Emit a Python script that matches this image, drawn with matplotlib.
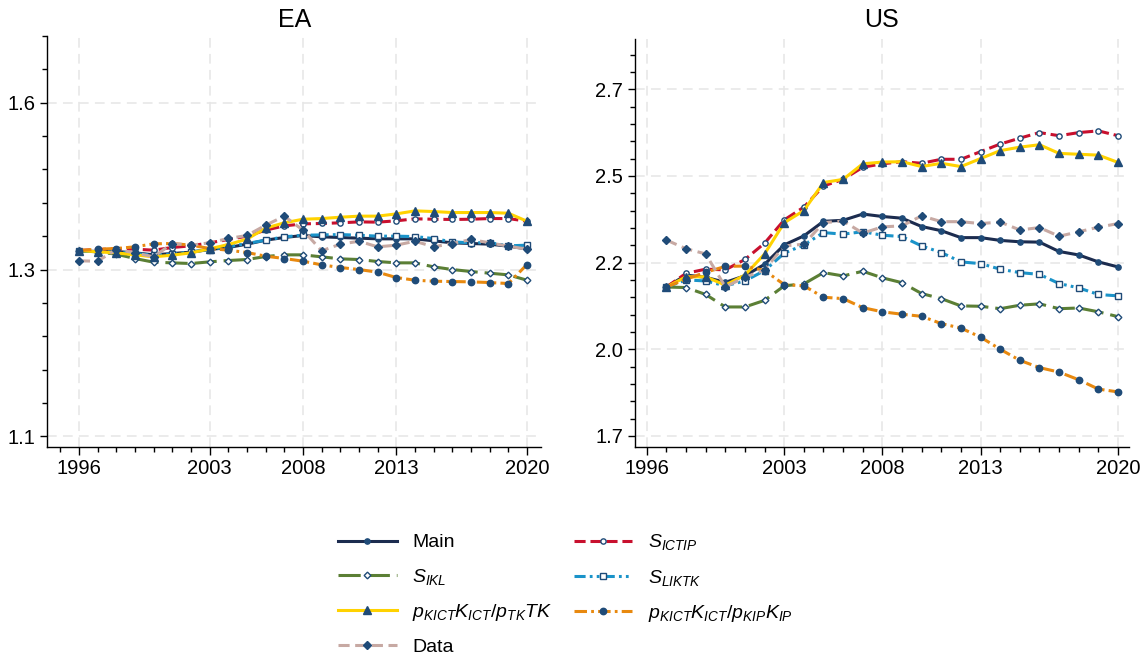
import matplotlib
matplotlib.use("Agg")
import matplotlib.pyplot as plt
from matplotlib.ticker import MultipleLocator

# ---- data -------------------------------------------------------------
ea_years = list(range(1996, 2021))
us_years = list(range(1997, 2021))

ea_main = [1.378, 1.377, 1.377, 1.375, 1.372, 1.374, 1.376, 1.380, 1.383,
           1.388, 1.394, 1.398, 1.401, 1.399, 1.398, 1.397, 1.396, 1.396,
           1.396, 1.393, 1.390, 1.389, 1.388, 1.385, 1.381]
ea_s_ictip = [1.3785, 1.380, 1.381, 1.3805, 1.379, 1.383, 1.3855, 1.390,
              1.395, 1.400, 1.409, 1.4154, 1.4184, 1.419, 1.420, 1.4214,
              1.421, 1.423, 1.426, 1.4254, 1.425, 1.4254, 1.4264, 1.4264,
              1.4224]
ea_s_ikl = [1.378, 1.3765, 1.373, 1.3665, 1.361, 1.360, 1.359, 1.3615,
            1.3635, 1.365, 1.3695, 1.372, 1.372, 1.369, 1.366, 1.365, 1.362,
            1.360, 1.360, 1.354, 1.350, 1.347, 1.3445, 1.342, 1.334]
ea_s_liktk = [1.378, 1.3765, 1.3765, 1.374, 1.3715, 1.373, 1.3765, 1.380,
              1.384, 1.389, 1.394, 1.399, 1.4014, 1.4019, 1.4024, 1.4014,
              1.400, 1.400, 1.3994, 1.3964, 1.3914, 1.390, 1.3904, 1.3855,
              1.3865]
ea_p_tk = [1.3785, 1.3765, 1.375, 1.372, 1.369, 1.3715, 1.375, 1.381,
           1.3875, 1.3955, 1.412, 1.420, 1.4254, 1.4264, 1.4284, 1.430,
           1.430, 1.4334, 1.4379, 1.4369, 1.4354, 1.4354, 1.4354, 1.4344,
           1.4224]
ea_p_kip = [1.3785, 1.3805, 1.3815, 1.384, 1.3885, 1.389, 1.3865, 1.3815,
            1.379, 1.3755, 1.370, 1.3665, 1.3625, 1.357, 1.353, 1.350, 1.346,
            1.338, 1.334, 1.3325, 1.332, 1.3315, 1.3305, 1.329, 1.3575]
ea_data = [1.363, 1.3625, 1.380, 1.375, 1.369, 1.389, 1.3865, 1.390, 1.3965,
           1.401, 1.4164, 1.430, 1.409, 1.378, 1.388, 1.3924, 1.384, 1.3865,
           1.3924, 1.384, 1.389, 1.395, 1.390, 1.385, 1.3805]

us_main = [2.1295, 2.164, 2.1575, 2.143, 2.162, 2.195, 2.251, 2.277, 2.319,
           2.322, 2.340, 2.333, 2.328, 2.304, 2.292, 2.272, 2.272, 2.264,
           2.260, 2.259, 2.232, 2.222, 2.202, 2.1875]
us_s_ictip = [2.1295, 2.169, 2.181, 2.179, 2.209, 2.256, 2.323, 2.360, 2.421,
              2.440, 2.475, 2.485, 2.491, 2.4865, 2.498, 2.498, 2.520, 2.542,
              2.559, 2.575, 2.566, 2.575, 2.580, 2.566]
us_s_ikl = [2.1295, 2.128, 2.108, 2.072, 2.072, 2.091, 2.133, 2.1385, 2.171,
            2.1615, 2.175, 2.156, 2.142, 2.1106, 2.096, 2.075, 2.074, 2.067,
            2.077, 2.081, 2.067, 2.069, 2.058, 2.044]
us_s_liktk = [2.1295, 2.150, 2.147, 2.133, 2.147, 2.177, 2.227, 2.251,
              2.2865, 2.282, 2.289, 2.279, 2.275, 2.248, 2.229, 2.202, 2.197,
              2.181, 2.171, 2.166, 2.1395, 2.127, 2.108, 2.104]
us_p_tk = [2.1295, 2.159, 2.159, 2.135, 2.164, 2.225, 2.315, 2.350, 2.431,
           2.440, 2.485, 2.490, 2.491, 2.477, 2.4865, 2.477, 2.500, 2.523,
           2.533, 2.540, 2.515, 2.5125, 2.510, 2.489]
us_p_kip = [2.1295, 2.152, 2.172, 2.189, 2.190, 2.177, 2.1365, 2.133, 2.100,
            2.096, 2.070, 2.058, 2.051, 2.045, 2.024, 2.011, 1.985, 1.950,
            1.918, 1.897, 1.884, 1.862, 1.835, 1.827]
us_data = [2.265, 2.240, 2.225, 2.130, 2.1575, 2.179, 2.248, 2.253, 2.315,
           2.320, 2.285, 2.303, 2.306, 2.335, 2.318, 2.318, 2.3125, 2.317,
           2.294, 2.301, 2.276, 2.289, 2.302, 2.3125]

x_ticks = [1996, 2003, 2008, 2013, 2020]
ea_y_ticks = [1.1, 1.35, 1.6]
ea_y_labels = ["1.1", "1.3", "1.6"]
us_y_ticks = [1.7, 1.95, 2.2, 2.45, 2.7]
us_y_labels = ["1.7", "2.0", "2.2", "2.5", "2.7"]

labels = {
    "main": "Main",
    "s_ictip": r"$S_{ICTIP}$",
    "s_ikl": r"$S_{IKL}$",
    "s_liktk": r"$S_{LIKTK}$",
    "p_tk": r"$p_{KICT}K_{ICT}/p_{TK}TK$",
    "p_kip": r"$p_{KICT}K_{ICT}/p_{KIP}K_{IP}$",
    "data": "Data",
}

# ---- styles -----------------------------------------------------------
MARK = "#1f4b78"
styles = {
    "main": dict(color="#1c2c4f", ls="-", marker="o", ms=3.8, mfc=MARK),
    "s_ictip": dict(color="#c8102e", ls=(0, (8, 3.5)), marker="o", ms=3.8,
                    mfc="white"),
    "s_ikl": dict(color="#5b7f35", ls=(0, (16, 5)), marker="D", ms=3.4,
                  mfc="white"),
    "s_liktk": dict(color="#1a93c9", ls=(0, (8, 3, 2, 3, 2, 3)), marker="s",
                    ms=3.8, mfc="white"),
    "p_tk": dict(color="#ffd200", ls="-", marker="^", ms=5.2, mfc=MARK),
    "p_kip": dict(color="#e8890f", ls=(0, (9, 3, 2, 3)), marker="o", ms=4.6,
                  mfc=MARK),
    "data": dict(color="#c7a9a3", ls=(0, (8, 4)), marker="D", ms=3.8,
                 mfc=MARK),
}
order = ["main", "s_ictip", "s_ikl", "s_liktk", "p_tk", "p_kip", "data"]

plt.rcParams["font.family"] = ["Liberation Sans", "DejaVu Sans"]
plt.rcParams["mathtext.fontset"] = "custom"
plt.rcParams["mathtext.rm"] = "Liberation Sans"
plt.rcParams["mathtext.it"] = "Liberation Sans:italic"
plt.rcParams["lines.scale_dashes"] = False


def style_axis(ax, xlim, ylim, yticks, ylabels):
    ax.set_xlim(*xlim)
    ax.set_ylim(*ylim)
    ax.set_xticks(x_ticks)
    ax.set_xticklabels([str(t) for t in x_ticks])
    ax.xaxis.set_minor_locator(MultipleLocator(1))
    ax.set_yticks(yticks)
    ax.set_yticklabels(ylabels)
    ax.yaxis.set_minor_locator(MultipleLocator(0.05))
    ax.spines["top"].set_visible(False)
    ax.spines["right"].set_visible(False)
    for s in ("left", "bottom"):
        ax.spines[s].set_linewidth(1.0)
    ax.tick_params(which="major", length=5.4, width=1.0, labelsize=14.5,
                   pad=3)
    ax.tick_params(which="minor", length=3.6, width=1.0)
    ax.grid(True, which="major", color="#e6e6e6", lw=1.1,
            ls=(0, (7, 4.5)), zorder=0)
    ax.set_axisbelow(True)


def draw_panel(ax, years, series):
    handles = {}
    for key in order:
        st = styles[key]
        line, = ax.plot(years, series[key], color=st["color"],
                        linestyle=st["ls"], lw=2.2, marker=st["marker"],
                        markersize=st["ms"], markerfacecolor=st["mfc"],
                        markeredgecolor=MARK, markeredgewidth=1.0,
                        label=labels[key])
        handles[key] = line
    return handles


def main():
    fig = plt.figure(figsize=(11.48, 6.61), dpi=100)
    ax_ea = fig.add_axes([0.04094, 0.32375, 0.43031, 0.62179])
    ax_us = fig.add_axes([0.55279, 0.32375, 0.43066, 0.61725])

    ea = {"main": ea_main, "s_ictip": ea_s_ictip, "s_ikl": ea_s_ikl,
          "s_liktk": ea_s_liktk, "p_tk": ea_p_tk, "p_kip": ea_p_kip,
          "data": ea_data}
    us = {"main": us_main, "s_ictip": us_s_ictip, "s_ikl": us_s_ikl,
          "s_liktk": us_s_liktk, "p_tk": us_p_tk, "p_kip": us_p_kip,
          "data": us_data}

    handles = draw_panel(ax_ea, ea_years, ea)
    draw_panel(ax_us, us_years, us)

    style_axis(ax_ea, (1994.29, 2020.75), (1.084, 1.70), ea_y_ticks,
               ea_y_labels)
    style_axis(ax_us, (1995.38, 2020.56), (1.668, 2.845), us_y_ticks,
               us_y_labels)

    fig.text(0.2564, 1 - 20 / 661, "EA", ha="center", va="center",
             fontsize=18)
    fig.text(0.7679, 1 - 20 / 661, "US", ha="center", va="center",
             fontsize=18)

    # two legend columns, filled row by row
    leg_order = ["main", "s_ikl", "p_tk", "data", "s_ictip", "s_liktk",
                 "p_kip"]
    fig.legend([handles[k] for k in leg_order],
               [labels[k] for k in leg_order],
               loc="upper center", bbox_to_anchor=(0.4926, 0.221), ncol=2,
               frameon=False, fontsize=14, numpoints=1, handlelength=3.0,
               handletextpad=0.8, columnspacing=1.1, labelspacing=0.78)

    fig.savefig("out.png", dpi=100)


if __name__ == "__main__":
    main()
